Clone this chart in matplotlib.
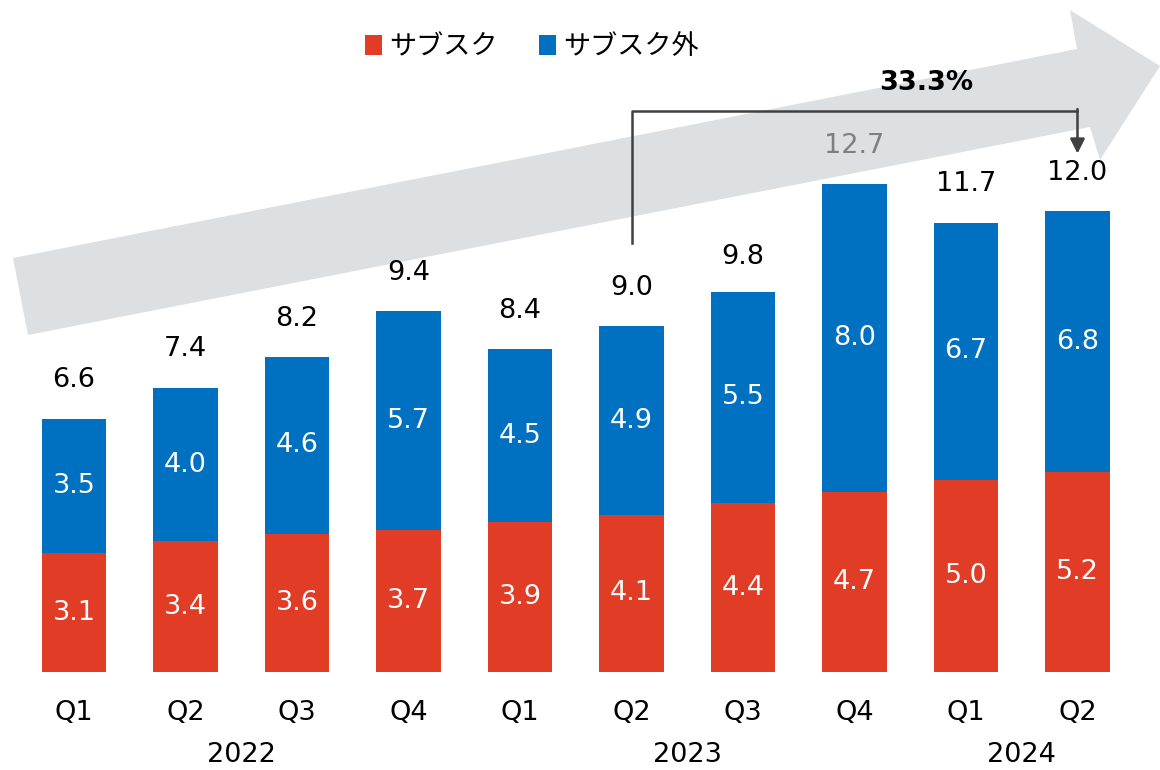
import numpy as np
import matplotlib.pyplot as plt
from matplotlib.patches import Polygon

plt.rcParams['font.family'] = ['DejaVu Sans', 'Noto Sans CJK JP']

# data
quarters = ['Q1', 'Q2', 'Q3', 'Q4', 'Q1', 'Q2', 'Q3', 'Q4', 'Q1', 'Q2']
years = ['2022', '2023', '2024']
year_pos = [1.5, 5.5, 8.5]
subsc = [3.1, 3.4, 3.6, 3.7, 3.9, 4.1, 4.4, 4.7, 5.0, 5.2]
non_subsc = [3.5, 4.0, 4.6, 5.7, 4.5, 4.9, 5.5, 8.0, 6.7, 6.8]
totals = [6.6, 7.4, 8.2, 9.4, 8.4, 9.0, 9.8, 12.7, 11.7, 12.0]
growth = '33.3%'

red = '#E03C26'
blue = '#0070C0'
fs = 19.5

fig = plt.figure(figsize=(11.6, 7.7), dpi=100)
ax = fig.add_axes([0, 0, 1, 1])
ax.set_xlim(-0.664, 9.74)
ax.set_ylim(-2.55, 17.5)
ax.axis('off')

# big gray arrow in the background (figure pixel coords)
W, H = 1160, 770
pts = [(13, 258), (1077, 49), (1070, 10), (1160, 66), (1100, 160), (1090, 127), (28, 335)]
arrow = Polygon([(x / W, 1 - y / H) for x, y in pts], closed=True,
                transform=fig.transFigure, facecolor='#DCE0E2', edgecolor='none', zorder=0)
ax.add_patch(arrow)

x = np.arange(len(quarters))
b1 = ax.bar(x, subsc, width=0.58, color=red, label='サブスク', zorder=2)
b2 = ax.bar(x, non_subsc, bottom=subsc, width=0.58, color=blue, label='サブスク外', zorder=2)

for i in range(len(x)):
    ax.text(x[i], subsc[i] / 2, f'{subsc[i]:.1f}', ha='center', va='center',
            color='white', fontsize=fs, zorder=3)
    ax.text(x[i], subsc[i] + non_subsc[i] / 2, f'{non_subsc[i]:.1f}', ha='center',
            va='center', color='white', fontsize=fs, zorder=3)
    c = '#7F7F7F' if i == 7 else 'black'
    ax.text(x[i], totals[i] + 1.0, f'{totals[i]:.1f}', ha='center', va='center',
            color=c, fontsize=fs, zorder=3)
    ax.text(x[i], -1.07, quarters[i], ha='center', va='center', fontsize=fs)

for yp, yr in zip(year_pos, years):
    ax.text(yp, -2.16, yr, ha='center', va='center', fontsize=fs)

# growth bracket from Q2 2023 to Q2 2024
ax.plot([5, 5, 9], [11.17, 14.62, 14.62], color='#404040', lw=1.8, zorder=4)
ax.annotate('', xy=(9, 13.5), xytext=(9, 14.66),
            arrowprops=dict(arrowstyle='-|>', color='#404040', lw=1.8,
                            mutation_scale=22, shrinkA=0, shrinkB=0), zorder=4)
ax.text(7.64, 15.35, growth, ha='center', va='center', fontsize=fs,
        fontweight='bold', zorder=4)

fig.legend(handles=[b1, b2], loc='center', bbox_to_anchor=(532 / W, 1 - 47 / H),
           ncol=2, frameon=False, handlelength=0.62, handleheight=0.72,
           handletextpad=0.28, columnspacing=1.5,
           prop={'family': ['Noto Sans CJK JP'], 'size': fs})

fig.savefig('out.png', dpi=100)
